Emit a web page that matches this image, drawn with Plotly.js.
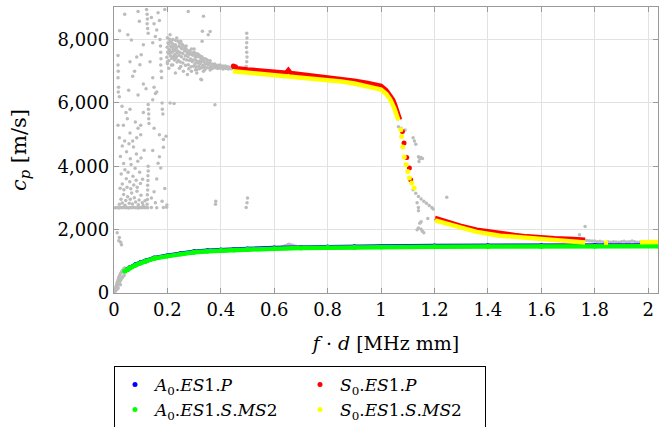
<!DOCTYPE html>
<html><head><meta charset="utf-8">
<script src="https://cdn.plot.ly/plotly-3.0.1.min.js"></script>
<style>html,body{margin:0;padding:0;background:#fff}#chart{width:663px;height:427px}</style>
</head><body><div id="chart"></div>
<script>
// ---- tick labels ----
const xTickVals = [0,0.2,0.4,0.6,0.8,1,1.2,1.4,1.6,1.8,2];
const xTickText = ["0","0.2","0.4","0.6","0.8","1","1.2","1.4","1.6","1.8","2"];
const yTickVals = [0,2000,4000,6000,8000];
const yTickText = ["0","2,000","4,000","6,000","8,000"];

// ---- series names ----
const names = {
  a0p: "<i>A</i><sub>0</sub>.<i>ES</i>1.<i>P</i>",
  s0p: "<i>S</i><sub>0</sub>.<i>ES</i>1.<i>P</i>",
  a0s: "<i>A</i><sub>0</sub>.<i>ES</i>1.<i>S</i>.<i>MS</i>2",
  s0s: "<i>S</i><sub>0</sub>.<i>ES</i>1.<i>S</i>.<i>MS</i>2"
};

// ---- A0 curves ----
const a0pX = [0.05,0.06,0.08,0.10,0.12,0.15,0.20,0.25,0.30,0.35,0.40,0.45,0.50,0.60,0.70,0.80,0.90,1.00,1.20,1.40,1.60,1.80,2.04];
const a0pY = [745,805,890,960,1022,1102,1180,1250,1302,1334,1358,1374,1390,1418,1440,1454,1464,1472,1482,1490,1494,1498,1502];
const a0sX = [0.04,0.05,0.06,0.08,0.10,0.12,0.15,0.20,0.25,0.30,0.35,0.40,0.45,0.50,0.60,0.70,0.80,0.90,1.00,1.20,1.40,1.60,1.80,2.04];
const a0sY = [683,740,800,880,947,1010,1090,1165,1235,1285,1318,1340,1356,1372,1400,1421,1435,1445,1452,1460,1466,1470,1474,1478];

// ---- S0 curves ----
const s0pX = [0.445,0.46,0.50,0.55,0.60,0.645,0.653,0.662,0.70,0.75,0.80,0.85,0.90,0.95,1.00,1.02,1.034,1.045,1.052,1.06,1.071,null,1.202,1.25,1.296,1.358,1.40,1.446,1.50,1.546,1.60,1.65,1.72,1.764];
const s0pY = [7150,7100,7060,7020,6985,6955,7040,6945,6905,6860,6810,6760,6700,6630,6540,6400,6260,6100,5950,5720,5473,null,2368,2240,2125,1999,1940,1873,1830,1788,1750,1730,1705,1683];
const s0pDotX = [0.447,0.455,1.080,1.086,1.096,1.106,1.111];
const s0pDotY = [7170,7140,5103,4737,4282,3947,3578];
const s0sX = [0.445,0.50,0.55,0.60,0.65,0.70,0.75,0.80,0.85,0.90,0.95,1.00,1.02,1.035,1.05,1.065,null,1.202,1.25,1.296,1.358,1.446,1.50,1.60,1.70,1.764,null,1.835,1.85,null,1.97,2.00,2.037];
const s0sY = [7000,6960,6920,6880,6850,6815,6775,6725,6675,6615,6535,6420,6280,6100,5820,5450,null,2293,2170,2053,1930,1810,1770,1700,1640,1598,null,1585,1585,null,1600,1605,1610];
const s0sDotX = [1.074,1.077,1.081,1.087,1.094,1.100,1.106,1.115,1.124];
const s0sDotY = [5157,4945,4611,4295,4052,3840,3632,3474,3316];

// ---- gray raw data points [f*d, cp] ----
const grayOrigin = [[0.002,40],[0.004,90],[0.006,150],[0.008,210],[0.010,270],[0.012,330],[0.014,380],[0.016,430],[0.018,480],[0.020,530],[0.022,570],[0.025,620],[0.028,660],[0.030,690],[0.033,720],[0.036,750],[0.038,770],[0.040,790],
 [0.010,170],[0.014,240],[0.018,300],[0.022,360],[0.026,420],[0.030,470],[0.034,520],[0.038,560],[0.006,60],[0.012,120],[0.016,160],[0.024,260],
 [0.012,1900],[0.020,1750],[0.025,1600],[0.018,1650],[0.028,1520]];
const grayBand = [[0.006,2690],[0.012,2700],[0.018,2680],[0.024,2700],[0.030,2690],[0.036,2710],[0.042,2690],[0.048,2700],[0.054,2680],[0.060,2700],[0.066,2690],[0.072,2710],[0.078,2690],[0.084,2700],[0.090,2680],[0.096,2700],[0.102,2690],[0.108,2700],[0.114,2690],[0.120,2700],[0.126,2690],[0.140,2700],[0.160,2690],[0.185,2700],[0.197,2710]];
const grayLow = [[0.02,2800],[0.026,2960],[0.031,2840],[0.036,3110],[0.041,2770],[0.044,2920],[0.051,3040],[0.057,2830],[0.061,2960],[0.066,3160],[0.069,2810],[0.076,3010],[0.081,2870],[0.086,3210],[0.091,2790],[0.094,2940],[0.101,3090],[0.106,2850],[0.109,2760],[0.116,2910],
 [0.023,3310],[0.031,3440],[0.037,3260],[0.046,3610],[0.049,3340],[0.059,3510],[0.063,3290],[0.071,3690],[0.074,3410],[0.083,3560],[0.087,3340],[0.096,3810],[0.099,3460],[0.107,3590],[0.027,3760],[0.041,3890],[0.053,3810],[0.064,4060],[0.079,3940],[0.089,4160],
 [0.024,4310],[0.036,4090],[0.047,4460],[0.061,4240],[0.073,4610],[0.084,4390],[0.101,4260],[0.113,4510],[0.031,4640],[0.056,4710],
 [0.124,2800],[0.125,2950],[0.125,3100],[0.126,3250],[0.126,3400],[0.127,3550],[0.127,3700],[0.128,3850],[0.128,4000],
 [0.14,3000],[0.15,3200],[0.155,2850],[0.16,3600],[0.165,4100],[0.17,4300],[0.175,3950],[0.18,2900],[0.19,3300],[0.198,2780],[0.145,4500],[0.185,4600]];
const grayMid = [[0.015,5300],[0.02,4900],[0.03,5900],[0.035,5300],[0.04,4800],[0.045,5700],[0.05,5500],[0.06,5800],[0.06,5050],[0.07,4800],[0.08,5400],[0.085,4900],[0.09,5200],[0.1,5000],[0.1,5300],[0.11,5700],[0.128,5950],[0.129,5800],[0.13,5650],[0.13,5500],[0.131,5350],[0.145,6100],[0.15,5200],[0.17,5000],[0.18,6000],[0.181,5800],[0.183,5650],[0.185,4850],[0.195,4950],[0.21,6000],[0.225,5980],[0.02,6200],[0.055,6400],[0.09,6250],[0.12,6450],[0.16,6350]];
const grayHigh = [[0.015,7500],[0.015,7200],[0.016,7000],[0.015,6800],[0.017,6500],[0.016,6350],[0.021,8283],[0.052,8157],[0.065,7990],[0.06,7300],[0.07,6840],[0.077,7000],[0.085,7450],[0.09,8890],[0.095,8577],[0.097,7210],[0.102,7525],[0.11,7840],[0.122,8950],[0.124,8800],[0.125,8650],[0.124,8500],[0.126,8350],[0.128,8200],[0.14,8700],[0.145,7900],[0.145,6800],[0.15,8500],[0.15,6500],[0.155,8100],[0.155,6300],[0.16,8300],[0.165,8850],[0.17,8600],[0.172,8000],[0.174,7800],[0.175,7600],[0.176,7400],[0.175,7200],[0.177,7000],[0.178,6800],[0.04,8800],[0.11,6600],[0.135,7300],[0.19,8950]];
const grayPeak = [[0.198,7440],[0.201,7610],[0.199,7760],[0.202,7890],[0.200,8060],[0.206,7340],[0.204,7560],[0.207,7690],[0.205,7860],[0.208,8010],
 [0.211,7490],[0.209,7660],[0.212,7790],[0.210,7960],[0.216,7410],[0.214,7590],[0.217,7760],[0.215,7910],[0.221,7440],[0.219,7610],[0.222,7690],[0.220,7860],
 [0.226,7360],[0.224,7490],[0.227,7660],[0.225,7790],[0.231,7410],[0.229,7540],[0.232,7710],[0.230,7840],[0.236,7290],[0.234,7460],[0.237,7590],[0.235,7760],
 [0.241,7340],[0.243,7510],[0.239,7640],[0.244,7810],[0.248,7290],[0.252,7460],[0.247,7590],[0.254,7710],[0.258,7260],[0.262,7390],[0.257,7560],[0.264,7640],
 [0.268,7190],[0.272,7360],[0.267,7490],[0.274,7610],[0.278,7210],[0.283,7340],[0.277,7460],[0.285,7540],[0.288,7140],[0.293,7310],[0.287,7390],[0.295,7510],
 [0.298,7160],[0.303,7240],[0.297,7360],[0.305,7440],[0.308,7140],[0.313,7260],[0.307,7340],[0.315,7460],[0.318,7160],[0.323,7240],[0.317,7310],[0.325,7390],
 [0.328,7110],[0.333,7190],[0.327,7310],[0.335,7370],[0.338,7140],[0.343,7230],[0.337,7290],[0.348,7110],[0.353,7210],[0.347,7270],[0.358,7110],[0.363,7170],[0.357,7260],
 [0.368,7090],[0.373,7180],[0.367,7230],[0.378,7110],[0.383,7150],[0.377,7230],[0.388,7090],[0.393,7160],[0.387,7190],[0.398,7100],[0.403,7130],[0.397,7200],
 [0.408,7070],[0.413,7140],[0.407,7170],[0.418,7090],[0.423,7110],[0.417,7170],[0.428,7070],[0.433,7120],[0.427,7140],[0.438,7080],[0.443,7100],
 [0.205,7100],[0.215,7200],[0.23,6950],[0.245,7100],[0.26,7000],[0.275,6900],[0.29,7000],[0.305,7050],[0.31,6950],[0.335,7000],[0.21,8150],[0.235,8050],[0.25,7950],[0.27,7800],[0.30,7700],
 [0.25,7750],[0.26,7800],[0.27,7700],[0.28,7650],[0.29,7700],[0.30,7600],[0.31,7550],[0.32,7500],[0.33,7450],[0.34,7400],[0.35,7350],[0.255,7850],[0.265,7720],[0.285,7620],[0.295,7580],[0.305,7520],[0.315,7540],[0.325,7470],[0.345,7380],[0.36,7330],
 [0.245,7900],[0.24,7950],[0.22,8000],[0.23,7980],[0.275,7560],[0.31,7050],[0.32,7080],[0.34,7060],[0.36,7040],[0.28,7080],[0.25,7150],[0.22,7200],[0.2,7250],[0.2,7300],
 [0.278,8890],[0.335,8735],[0.36,8260],[0.331,8262],[0.353,8157],[0.33,7946],[0.378,5946],[0.328,6736],[0.325,6750]];
const graySpike = [[0.495,7150],[0.497,7300],[0.498,7450],[0.497,7600],[0.496,7750],[0.497,7900],[0.498,8050],[0.497,8200],[0.49,7100],[0.505,7050],[0.495,2700],[0.498,2850],[0.5,3000],[0.38,2800],[0.381,2900]];
const grayBump = [[0.63,1460],[0.64,1490],[0.65,1520],[0.66,1530],[0.67,1510],[0.68,1480],[0.655,1540]];
const grayDrop = [[1.065,5250],[1.075,5200],[1.09,5150],[1.12,4900],[1.125,4800],[1.13,4700],[1.14,4300],[1.145,4250],[1.15,4280],[1.155,4250],[1.142,4150],
 [1.12,3260],[1.13,3150],[1.14,3050],[1.15,2970],[1.16,2900],[1.17,2830],[1.18,2760],[1.19,2700],[1.195,2650],
 [1.135,2850],[1.14,2700],[1.14,2600],[1.145,2200],[1.15,2250],[1.135,2000],[1.15,2010],[1.155,1950],[1.14,2050],[1.16,1900],[1.175,2350],[1.246,3020]];
const grayTail = [[1.70,1710],[1.72,1700],[1.73,1705],[1.74,1700],[1.75,1690],[1.76,1680],[1.77,1660],[1.78,1650],[1.79,1640],[1.80,1640],[1.81,1620],[1.82,1630],[1.83,1610],[1.85,1620],[1.86,1600],[1.87,1620],[1.88,1610],[1.89,1600],[1.90,1620],[1.91,1630],[1.92,1610],[1.93,1620],[1.94,1640],[1.95,1620],[1.96,1600],[1.97,1610],[1.98,1600],[2.00,1600],[2.02,1590],[1.764,2100],[1.743,1840]];

const grayAll = [].concat(grayOrigin, grayBand, grayLow, grayMid, grayHigh, grayPeak, graySpike, grayBump, grayDrop, grayTail);

const COL = {a0p:'#0000ff', a0s:'#00ff00', s0p:'#ff0000', s0s:'#ffff00', gray:'#bcbcbc'};
const LW = 4.5, MS = 5;
function lineTrace(x, y, c){ return {x:x, y:y, type:'scatter', mode:'lines', line:{color:c, width:LW}, showlegend:false, hoverinfo:'skip', connectgaps:false}; }
function dotTrace(x, y, c, name, rank){ return {x:x, y:y, type:'scatter', mode:'markers', marker:{color:c, size:MS}, name:name, legendrank:rank}; }

const data = [
  {x: grayAll.map(p=>p[0]), y: grayAll.map(p=>p[1]), type:'scatter', mode:'markers', marker:{color:COL.gray, size:3.5}, showlegend:false, hoverinfo:'skip'},
  lineTrace(a0pX, a0pY, COL.a0p), dotTrace(a0pX, a0pY, COL.a0p, names.a0p, 1),
  lineTrace(a0sX, a0sY, COL.a0s), dotTrace(a0sX, a0sY, COL.a0s, names.a0s, 3),
  lineTrace(s0pX, s0pY, COL.s0p), dotTrace(s0pDotX, s0pDotY, COL.s0p, names.s0p, 2),
  lineTrace(s0sX, s0sY, COL.s0s), dotTrace(s0sDotX, s0sDotY, COL.s0s, names.s0s, 4)
];

const FONT = 'DejaVu Serif';
const axisCommon = {showline:true, linecolor:'#9a9a9a', linewidth:1.3, mirror:'ticks', ticks:'inside', ticklen:5, tickcolor:'#9a9a9a', tickwidth:1,
  showgrid:true, gridcolor:'#e2e2e2', gridwidth:1, zeroline:false, tickfont:{family:FONT, size:18, color:'#000'}};

const layout = {
  width:663, height:427, paper_bgcolor:'#fff', plot_bgcolor:'#fff',
  margin:{l:114, r:5, t:7, b:134, autoexpand:false},
  font:{family:FONT, color:'#000'},
  xaxis: Object.assign({}, axisCommon, {range:[0,2.037], tickmode:'array', tickvals:xTickVals, ticktext:xTickText,
     title:{text:'<i>f</i> · <i>d</i> [MHz mm]', font:{family:FONT, size:19, color:'#000'}, standoff:17}}),
  yaxis: Object.assign({}, axisCommon, {range:[0,9030], tickmode:'array', tickvals:yTickVals, ticktext:yTickText,
     title:{text:'<i>c</i><sub><i>p</i></sub> [m/s]', font:{family:FONT, size:21, color:'#000'}, standoff:25}}),
  legend:{orientation:'h', x:0.0, xanchor:'left', y:-0.255, yanchor:'top', bordercolor:'#000', borderwidth:1, bgcolor:'#fff',
     font:{family:FONT, size:17, color:'#000'}, entrywidth:140, entrywidthmode:'pixels', traceorder:'normal', itemclick:false},
  showlegend:true
};

Plotly.newPlot('chart', data, layout, {displayModeBar:false, staticPlot:true});
</script></body></html>
